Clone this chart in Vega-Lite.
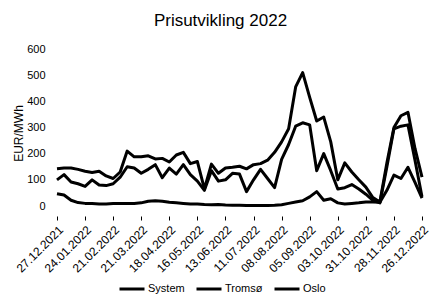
{
  "$schema": "https://vega.github.io/schema/vega-lite/v6.json",
  "width": 365,
  "height": 157,
  "autosize": {"type": "none"},
  "padding": {"left": 57, "top": 49, "right": 7, "bottom": 94},
  "background": "white",
  "config": {"font": "Liberation Sans", "view": {"stroke": null}},
  "title": {"text": "Prisutvikling 2022", "fontSize": 17, "fontWeight": "normal", "color": "black", "dy": -9, "dx": -19},
  "data": {"values": [
    {"Uke": "27.12.2021", "System": 100, "Tromsø": 47, "Oslo": 142},
    {"Uke": "03.01.2022", "System": 120, "Tromsø": 42, "Oslo": 145},
    {"Uke": "10.01.2022", "System": 92, "Tromsø": 22, "Oslo": 145},
    {"Uke": "17.01.2022", "System": 85, "Tromsø": 13, "Oslo": 140},
    {"Uke": "24.01.2022", "System": 75, "Tromsø": 10, "Oslo": 133},
    {"Uke": "31.01.2022", "System": 100, "Tromsø": 10, "Oslo": 128},
    {"Uke": "07.02.2022", "System": 80, "Tromsø": 8, "Oslo": 133},
    {"Uke": "14.02.2022", "System": 78, "Tromsø": 8, "Oslo": 115},
    {"Uke": "21.02.2022", "System": 85, "Tromsø": 10, "Oslo": 105},
    {"Uke": "28.02.2022", "System": 110, "Tromsø": 10, "Oslo": 130},
    {"Uke": "07.03.2022", "System": 150, "Tromsø": 10, "Oslo": 210},
    {"Uke": "14.03.2022", "System": 145, "Tromsø": 10, "Oslo": 188},
    {"Uke": "21.03.2022", "System": 125, "Tromsø": 12, "Oslo": 188},
    {"Uke": "28.03.2022", "System": 140, "Tromsø": 18, "Oslo": 192},
    {"Uke": "04.04.2022", "System": 158, "Tromsø": 20, "Oslo": 180},
    {"Uke": "11.04.2022", "System": 108, "Tromsø": 18, "Oslo": 182},
    {"Uke": "18.04.2022", "System": 145, "Tromsø": 14, "Oslo": 168},
    {"Uke": "25.04.2022", "System": 122, "Tromsø": 12, "Oslo": 195},
    {"Uke": "02.05.2022", "System": 158, "Tromsø": 10, "Oslo": 205},
    {"Uke": "09.05.2022", "System": 120, "Tromsø": 8, "Oslo": 162},
    {"Uke": "16.05.2022", "System": 95, "Tromsø": 8, "Oslo": 170},
    {"Uke": "23.05.2022", "System": 60, "Tromsø": 6, "Oslo": 65},
    {"Uke": "30.05.2022", "System": 135, "Tromsø": 5, "Oslo": 160},
    {"Uke": "06.06.2022", "System": 95, "Tromsø": 6, "Oslo": 125},
    {"Uke": "13.06.2022", "System": 100, "Tromsø": 4, "Oslo": 145},
    {"Uke": "20.06.2022", "System": 125, "Tromsø": 3, "Oslo": 148},
    {"Uke": "27.06.2022", "System": 122, "Tromsø": 3, "Oslo": 152},
    {"Uke": "04.07.2022", "System": 55, "Tromsø": 2, "Oslo": 142},
    {"Uke": "11.07.2022", "System": 100, "Tromsø": 2, "Oslo": 158},
    {"Uke": "18.07.2022", "System": 140, "Tromsø": 2, "Oslo": 162},
    {"Uke": "25.07.2022", "System": 105, "Tromsø": 2, "Oslo": 175},
    {"Uke": "01.08.2022", "System": 70, "Tromsø": 3, "Oslo": 205},
    {"Uke": "08.08.2022", "System": 178, "Tromsø": 5, "Oslo": 245},
    {"Uke": "15.08.2022", "System": 235, "Tromsø": 10, "Oslo": 295},
    {"Uke": "22.08.2022", "System": 305, "Tromsø": 15, "Oslo": 455},
    {"Uke": "29.08.2022", "System": 318, "Tromsø": 20, "Oslo": 510},
    {"Uke": "05.09.2022", "System": 310, "Tromsø": 35, "Oslo": 415},
    {"Uke": "12.09.2022", "System": 135, "Tromsø": 55, "Oslo": 325},
    {"Uke": "19.09.2022", "System": 200, "Tromsø": 22, "Oslo": 340},
    {"Uke": "26.09.2022", "System": 135, "Tromsø": 28, "Oslo": 245},
    {"Uke": "03.10.2022", "System": 65, "Tromsø": 12, "Oslo": 100},
    {"Uke": "10.10.2022", "System": 70, "Tromsø": 8, "Oslo": 165},
    {"Uke": "17.10.2022", "System": 82, "Tromsø": 10, "Oslo": 130},
    {"Uke": "24.10.2022", "System": 65, "Tromsø": 12, "Oslo": 100},
    {"Uke": "31.10.2022", "System": 45, "Tromsø": 15, "Oslo": 72},
    {"Uke": "07.11.2022", "System": 22, "Tromsø": 15, "Oslo": 32},
    {"Uke": "14.11.2022", "System": 12, "Tromsø": 14, "Oslo": 15},
    {"Uke": "21.11.2022", "System": 150, "Tromsø": 60, "Oslo": 165},
    {"Uke": "28.11.2022", "System": 295, "Tromsø": 118, "Oslo": 300},
    {"Uke": "05.12.2022", "System": 305, "Tromsø": 105, "Oslo": 345},
    {"Uke": "12.12.2022", "System": 310, "Tromsø": 148, "Oslo": 358},
    {"Uke": "19.12.2022", "System": 175, "Tromsø": 90, "Oslo": 220},
    {"Uke": "26.12.2022", "System": 35, "Tromsø": 30, "Oslo": 110}
  ]},
  "transform": [{"fold": ["System", "Tromsø", "Oslo"], "as": ["Serie", "Pris"]}],
  "mark": {"type": "line", "strokeWidth": 3, "strokeJoin": "round"},
  "encoding": {
    "x": {
      "field": "Uke", "type": "ordinal", "sort": null,
      "scale": {"type": "point", "padding": 0},
      "axis": {
        "values": ["27.12.2021", "24.01.2022", "21.02.2022", "21.03.2022", "18.04.2022", "16.05.2022", "13.06.2022", "11.07.2022", "08.08.2022", "05.09.2022", "03.10.2022", "31.10.2022", "28.11.2022", "26.12.2022"],
        "labelAngle": -45, "labelFontSize": 12, "labelColor": "black",
        "domain": false, "ticks": true, "tickColor": "black", "tickSize": 4,
        "offset": 10, "title": null, "labelPadding": 4, "grid": false
      }
    },
    "y": {
      "field": "Pris", "type": "quantitative",
      "scale": {"domain": [0, 600]},
      "axis": {
        "values": [0, 100, 200, 300, 400, 500, 600],
        "title": "EUR/MWh", "titleFontSize": 12, "titleFontWeight": "normal", "titleColor": "black",
        "titleY": 84,
        "domain": false, "ticks": false, "grid": false,
        "labelFontSize": 11, "labelColor": "black", "labelPadding": 12, "titlePadding": 1
      }
    },
    "color": {
      "field": "Serie", "type": "nominal",
      "scale": {"domain": ["System", "Tromsø", "Oslo"], "range": ["black", "black", "black"]},
      "legend": {
        "orient": "none", "legendX": 61, "legendY": 226, "direction": "horizontal",
        "title": null, "symbolType": "stroke", "symbolSize": 625, "symbolStrokeWidth": 3,
        "labelFontSize": 11, "labelColor": "black", "labelOffset": 2, "columnPadding": 5
      }
    }
  }
}
